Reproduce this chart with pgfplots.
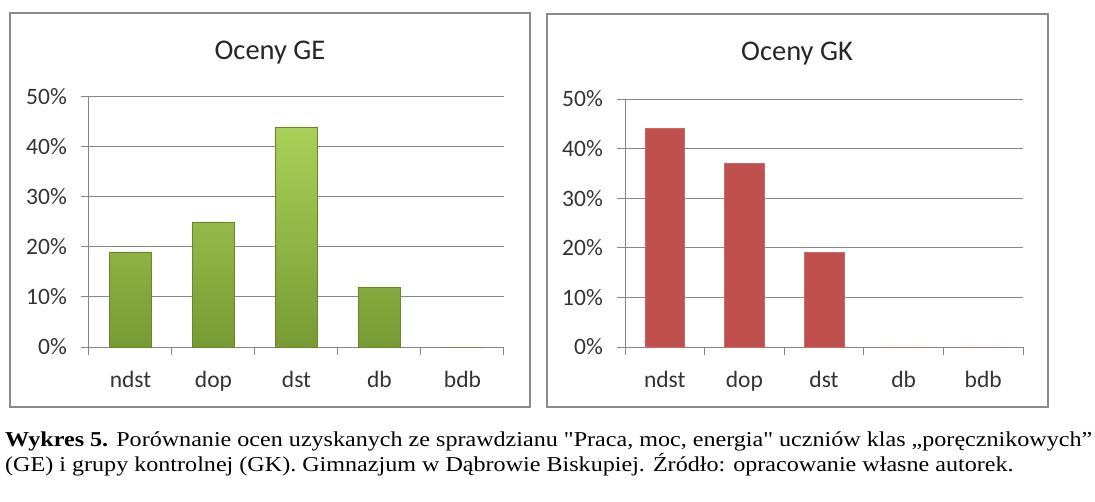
\documentclass[border=0pt]{standalone}
\usepackage{pgfplots}
\pgfplotsset{compat=1.18}
\usepackage{fontspec}
\usepackage{graphicx}
\setmainfont{Carlito}
\newfontfamily\capfont{Liberation Serif}
\definecolor{framegray}{RGB}{138,138,138}
\definecolor{gridgray}{RGB}{134,134,134}
\definecolor{gtop}{RGB}{170,208,88}
\definecolor{gbot}{RGB}{120,154,52}
\definecolor{gedge}{RGB}{104,134,44}
\definecolor{barred}{RGB}{192,80,77}
\pgfplotsset{
  mychart/.style={
    scale only axis,
    anchor=south west,
    xmin=0, xmax=5, ymin=0, ymax=50,
    axis x line*=bottom, axis y line*=left,
    axis line style={gridgray, line width=1pt, -},
    ymajorgrids,
    major grid style={gridgray, line width=1pt},
    tick align=outside,
    major tick length=8pt,
    tick style={gridgray, line width=1pt},
    ytick={0,10,20,30,40,50},
    yticklabels={0\%,10\%,20\%,30\%,40\%,50\%},
    yticklabel style={font=\fontsize{23.5}{28}\selectfont, text=black!80, anchor=east, inner sep=0pt, xshift=-14pt},
    xtick={0,1,2,3,4,5},
    xticklabels={},
    extra x ticks={0.5,1.5,2.5,3.5,4.5},
    extra x tick labels={ndst,dop,dst,db,bdb},
    extra x tick style={major tick length=0pt, grid=none,
      xticklabel style={font=\fontsize{23.5}{28}\selectfont, text=black!80, anchor=base, inner sep=0pt, yshift=-40pt}},
    clip=false,
  }
}
\begin{document}
\begin{tikzpicture}[x=1pt,y=1pt]
\useasboundingbox (0,0) rectangle (1095,501);
% frames
\draw[framegray, line width=2pt] (10,488) rectangle (530,94);
\draw[framegray, line width=2pt] (547,487) rectangle (1048,94);
% titles
\node[anchor=base, font=\fontsize{28.5}{33}\selectfont, text=black!85] at (270,441) {Oceny GE};
\node[anchor=base, font=\fontsize{28.5}{33}\selectfont, text=black!85] at (797,440) {Oceny GK};
% left chart
\begin{axis}[mychart, at={(89pt,154pt)}, width=415pt, height=250pt]
\addplot[ybar, bar width=0.5, top color=gtop, bottom color=gbot, draw=gedge, line width=0.6pt]
  coordinates {(0.5,19) (1.5,25) (2.5,44) (3.5,12) (4.5,0)};
\end{axis}
% right chart
\begin{axis}[mychart, at={(625pt,154pt)}, width=398pt, height=248pt]
\addplot[ybar, bar width=0.5, fill=barred, draw=barred!85!white, line width=0.6pt]
  coordinates {(0.5,44) (1.5,37) (2.5,19) (3.5,0) (4.5,0)};
\end{axis}
% caption
\node[anchor=base west, inner sep=0pt] at (5,55) {\resizebox*{1087pt}{\totalheight}{\capfont\fontsize{21.2}{24.5}\selectfont
\begin{tabular}[t]{@{}l@{}}
\textbf{Wykres 5.} Porównanie ocen uzyskanych ze sprawdzianu "Praca, moc, energia" uczniów klas „poręcznikowych”\\
(GE) i grupy kontrolnej (GK). Gimnazjum w Dąbrowie Biskupiej. Źródło: opracowanie własne autorek.
\end{tabular}}};
\end{tikzpicture}
\end{document}
